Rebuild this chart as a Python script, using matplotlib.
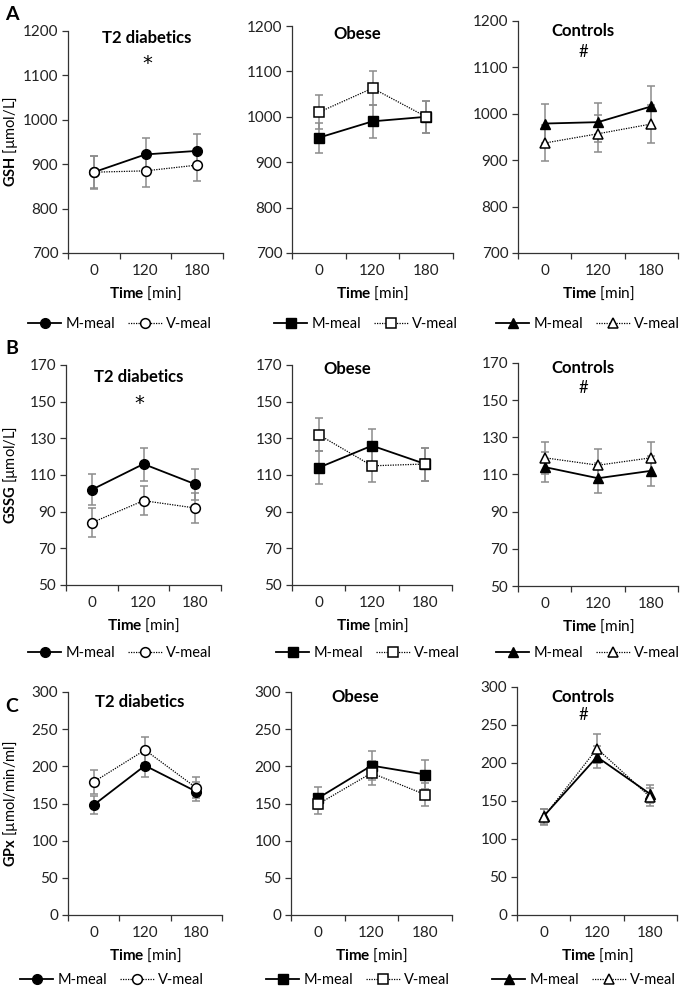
import matplotlib.pyplot as plt
from matplotlib.lines import Line2D

plt.rcParams['font.family'] = ['Lato', 'DejaVu Sans']
plt.rcParams['mathtext.fontset'] = 'custom'
plt.rcParams['mathtext.bf'] = 'Lato:bold'
plt.rcParams['mathtext.rm'] = 'Lato'

# ---- data ----
times = ['0', '120', '180']
groups = ['T2 diabetics', 'Obese', 'Controls']
group_marks = ['*', '', '#']
markers = ['o', 's', '^']

gsh_m = [[882, 922, 930], [954, 990, 1000], [979, 982, 1016]]
gsh_m_err = [[37, 38, 38], [33, 36, 35], [43, 42, 43]]
gsh_v = [[882, 885, 898], [1010, 1063, 1000], [937, 957, 978]]
gsh_v_err = [[36, 36, 36], [37, 37, 35], [38, 40, 40]]

gssg_m = [[102, 116, 105], [114, 126, 116], [114, 108, 112]]
gssg_m_err = [[8.5, 9, 8.5], [9, 9, 9], [8, 8, 8]]
gssg_v = [[84, 96, 92], [132, 115, 116], [119, 115, 119]]
gssg_v_err = [[8, 8, 8], [9, 9, 9], [8.5, 8.5, 8.5]]

gpx_m = [[148, 201, 166], [157, 201, 189], [130, 208, 159]]
gpx_m_err = [[12, 16, 13], [15, 20, 20], [10, 14, 12]]
gpx_v = [[179, 222, 171], [149, 191, 162], [129, 219, 155]]
gpx_v_err = [[16, 18, 14], [13, 16, 15], [10, 19, 12]]

rows = [
    ('A', r'$\mathbf{GSH}$ [µmol/L]', (700, 1200, 100), gsh_m, gsh_m_err, gsh_v, gsh_v_err),
    ('B', r'$\mathbf{GSSG}$ [µmol/L]', (50, 170, 20), gssg_m, gssg_m_err, gssg_v, gssg_v_err),
    ('C', r'$\mathbf{GPx}$ [µmol/min/ml]', (0, 300, 50), gpx_m, gpx_m_err, gpx_v, gpx_v_err),
]

# ---- layout in pixels: left, top, right, bottom ----
W, H = 685, 989
boxes = [
    [(68, 31, 223, 253), (292, 26, 453, 253), (518, 21, 678, 253)],
    [(66, 365, 221, 585), (292, 365, 452, 585), (518, 363, 678, 586)],
    [(68, 692, 222, 915), (291, 692, 452, 915), (517, 687, 677, 915)],
]
title_pos = [
    [(147, 38, 64), (357, 34, None), (583, 31, 52)],
    [(139, 377, 404), (347, 369, None), (583, 368, 388)],
    [(140, 702, None), (355, 697, None), (583, 697, 715)],
]
legend_pos = [
    [(120, 324), (366, 324), (588, 324)],
    [(120, 653), (368, 653), (588, 653)],
    [(112, 980), (358, 980), (584, 980)],
]
letter_y = [15, 348, 706]
ylabel_right = 20


def fx(x):
    return x / W


def fy(y):
    return 1 - y / H


fig = plt.figure(figsize=(W / 100, H / 100), dpi=100)
ecol = '#8c8c8c'

for r, (letter, ylab, (y0, y1, ys), m, me, v, ve) in enumerate(rows):
    fig.text(fx(12), fy(letter_y[r]), letter, fontsize=14, fontweight='bold',
             ha='center', va='center')
    for g in range(3):
        l, t, rr, b = boxes[r][g]
        ax = fig.add_axes([fx(l), fy(b), (rr - l) / W, (b - t) / H])
        x = list(range(len(times)))
        mk = markers[g]
        ms = 7.5 if mk == '^' else 7
        ax.errorbar(x, m[g], yerr=me[g], fmt='none', ecolor=ecol, elinewidth=1.1,
                    capsize=3, capthick=1.1, zorder=1)
        ax.errorbar(x, v[g], yerr=ve[g], fmt='none', ecolor=ecol, elinewidth=1.1,
                    capsize=3, capthick=1.1, zorder=1)
        ax.plot(x, m[g], color='black', lw=1.3, marker=mk, ms=ms,
                mfc='black', mec='black', zorder=3)
        ax.plot(x, v[g], color='black', lw=0.9, ls=(0, (1, 1)), marker=mk, ms=ms,
                mfc='white', mec='black', mew=1.1, zorder=4)

        ax.set_xlim(-0.5, 2.5)
        ax.set_ylim(y0, y1)
        ax.set_yticks(range(y0, y1 + 1, ys))
        ax.set_xticks(x)
        ax.set_xticklabels(times)
        ax.set_xticks([-0.5, 0.5, 1.5, 2.5], minor=True)
        ax.tick_params(axis='x', which='major', length=0, labelsize=11, pad=8,
                       colors='#222222')
        ax.tick_params(axis='x', which='minor', length=4, width=0.9, color='#333333')
        ax.tick_params(axis='y', length=4, width=0.9, labelsize=11, pad=3,
                       color='#333333', labelcolor='#222222')
        for s in ['top', 'right']:
            ax.spines[s].set_visible(False)
        for s in ['left', 'bottom']:
            ax.spines[s].set_linewidth(0.9)
            ax.spines[s].set_color('#333333')
        ax.set_xlabel(r'$\mathbf{Time}$ [min]', fontsize=11, labelpad=5)
        if g == 0:
            ax.set_ylabel(ylab, fontsize=10.5)
            ax.yaxis.set_label_coords((ylabel_right - l) / (rr - l), 0.5)

        tx, ty, sy = title_pos[r][g]
        fig.text(fx(tx), fy(ty), groups[g], fontsize=12, fontweight='bold',
                 ha='center', va='center')
        if sy is not None:
            if group_marks[g] == '*':
                fig.text(fx(tx), fy(sy), '*', fontsize=14, family='DejaVu Sans',
                         ha='center', va='center')
            else:
                fig.text(fx(tx), fy(sy), group_marks[g], fontsize=12,
                         ha='center', va='center')

        handles = [
            Line2D([], [], color='black', lw=1.3, marker=mk, ms=ms, mfc='black'),
            Line2D([], [], color='black', lw=0.9, ls=(0, (1, 1)), marker=mk, ms=ms,
                   mfc='white', mew=1.1),
        ]
        lx, ly = legend_pos[r][g]
        fig.legend(handles, ['M-meal', 'V-meal'], loc='center',
                   bbox_to_anchor=(fx(lx), fy(ly)), ncol=2, frameon=False,
                   fontsize=10.5, handlelength=2.3, handletextpad=0.3,
                   columnspacing=0.9, borderpad=0, borderaxespad=0)

fig.savefig('out.png', dpi=100)
